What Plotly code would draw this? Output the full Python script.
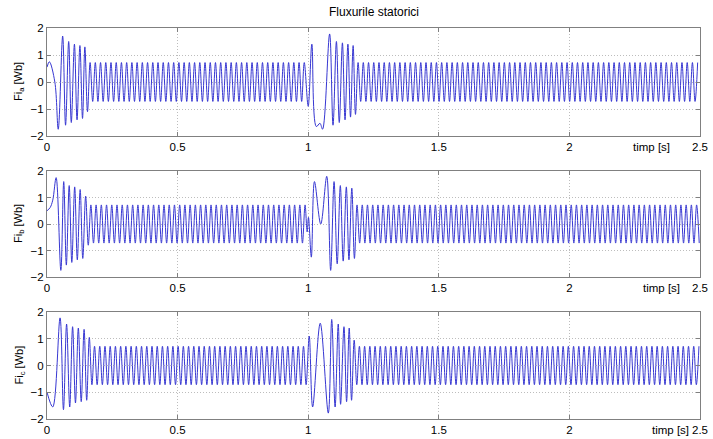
import plotly.graph_objects as go
from plotly.subplots import make_subplots

W, H = 713, 439

# ---- data ----
HALF_PERIOD = 0.01      # 50 Hz supply
STEADY_AMP = 0.72       # steady-state flux amplitude [Wb]

# phase a : start-up transient (time [s], flux [Wb]) at the extrema
a_start_t = [0.000, 0.009, 0.030, 0.043, 0.060, 0.071, 0.083, 0.093, 0.105, 0.115, 0.126, 0.136, 0.145, 0.155]
a_start_v = [0.55, 0.75, 0.00, -1.75, 1.70, -1.60, 1.50, -1.50, 1.40, -1.40, 1.35, -1.35, 1.30, -1.10]
a_fault_t = [1.000, 1.014, 1.031, 1.045, 1.055, 1.082, 1.095, 1.108, 1.119, 1.131, 1.141, 1.152, 1.162, 1.172, 1.181]
a_fault_v = [-0.90, 1.40, -1.65, -1.53, -1.75, 1.78, -1.60, 1.50, -1.50, 1.45, -1.40, 1.40, -1.30, 1.35, -1.20]

# phase b
b_start_t = [0.000, 0.012, 0.022, 0.035, 0.053, 0.064, 0.074, 0.085, 0.095, 0.106, 0.116, 0.127, 0.137, 0.148, 0.158]
b_start_v = [0.50, 0.62, 0.90, 1.75, -1.75, 1.60, -1.55, 1.45, -1.45, 1.40, -1.35, 1.30, -1.30, 1.05, -0.80]
b_fault_t = [0.996, 1.001, 1.012, 1.024, 1.048, 1.071, 1.086, 1.099, 1.111, 1.123, 1.134, 1.146, 1.156, 1.167, 1.177]
b_fault_v = [-0.30, 0.25, -1.25, 1.60, 0.00, 1.80, -1.75, 1.60, -1.50, 1.45, -1.40, 1.40, -1.35, 1.35, -1.30]

# phase c
c_start_t = [0.000, 0.022, 0.050, 0.063, 0.075, 0.087, 0.098, 0.109, 0.120, 0.131, 0.142, 0.152, 0.162]
c_start_v = [-1.00, -1.55, 1.78, -1.65, 1.55, -1.55, 1.45, -1.40, 1.40, -1.35, 1.35, -1.30, 1.05]
c_fault_t = [1.004, 1.017, 1.046, 1.077, 1.090, 1.103, 1.115, 1.124, 1.137, 1.147, 1.157, 1.166, 1.176]
c_fault_v = [1.10, -1.55, 1.58, -1.78, 1.72, -1.55, 1.55, -1.45, 1.45, -1.35, 1.40, -1.30, 0.95]

# steady segments: (start time, end time, sign of first extremum)
a_steady = [(0.165, 0.990, 1), (1.191, 2.500, 1)]
b_steady = [(0.168, 0.990, 1), (1.187, 2.500, 1)]
c_steady = [(0.172, 0.995, -1), (1.186, 2.500, -1)]

x_tick_vals = [0, 0.5, 1, 1.5, 2, 2.5]
x_tick_text = ["0", "0.5", "1", "1.5", "2", "2.5"]
y_tick_vals = [-2, -1, 0, 1, 2]
y_titles = ["Fi<sub>a</sub> [Wb]", "Fi<sub>b</sub> [Wb]", "Fi<sub>c</sub> [Wb]"]
title_text = "Fluxurile statorici"
x_label = "timp [s]"


def steady(t0, t1, sign):
    ts, vs = [], []
    k = 0
    while t0 + k * HALF_PERIOD <= t1 + 1e-9:
        ts.append(round(t0 + k * HALF_PERIOD, 4))
        vs.append(sign * STEADY_AMP * (1 if k % 2 == 0 else -1))
        k += 1
    return ts, vs


def build(st_t, st_v, ft_t, ft_v, segs):
    s1 = steady(*segs[0])
    s2 = steady(*segs[1])
    t = st_t + s1[0] + ft_t + s2[0]
    v = st_v + s1[1] + ft_v + s2[1]
    return t, v


phases = [
    build(a_start_t, a_start_v, a_fault_t, a_fault_v, a_steady),
    build(b_start_t, b_start_v, b_fault_t, b_fault_v, b_steady),
    build(c_start_t, c_start_v, c_fault_t, c_fault_v, c_steady),
]

fig = make_subplots(rows=3, cols=1)

LINE_COLOR = "rgb(55,55,210)"
for i, (t, v) in enumerate(phases):
    fig.add_trace(go.Scatter(x=t, y=v, mode="lines",
                             line=dict(color=LINE_COLOR, width=1, shape="spline", smoothing=1.0),
                             showlegend=False, hoverinfo="skip"), row=i + 1, col=1)

# pixel layout of the three axes boxes (top, bottom)
boxes = [(28, 136), (171, 277), (312, 419)]
x_left, x_right = 47, 700
FONT = "Liberation Sans, Arial, sans-serif"
AX_COL = "#808080"
GRID_COL = "#bdbdbd"

for i, (top, bot) in enumerate(boxes):
    xa = "xaxis" if i == 0 else f"xaxis{i+1}"
    ya = "yaxis" if i == 0 else f"yaxis{i+1}"
    fig.layout[xa].update(
        domain=[x_left / W, x_right / W], range=[0, 2.5], automargin=False,
        tickvals=x_tick_vals, ticktext=x_tick_text,
        ticks="inside", ticklen=4, tickcolor=AX_COL, tickwidth=1,
        showline=True, linecolor=AX_COL, linewidth=1, mirror="ticks",
        showgrid=True, gridcolor=GRID_COL, griddash="1px,2px", gridwidth=1,
        zeroline=False, tickfont=dict(family=FONT, size=11.5, color="#000"),
        fixedrange=True,
    )
    fig.layout[ya].update(
        domain=[1 - bot / H, 1 - top / H], range=[-2, 2], automargin=False,
        tickvals=y_tick_vals,
        ticks="inside", ticklen=4, tickcolor=AX_COL, tickwidth=1,
        showline=True, linecolor=AX_COL, linewidth=1, mirror="ticks",
        showgrid=True, gridcolor=GRID_COL, griddash="1px,2px", gridwidth=1,
        zeroline=False, tickfont=dict(family=FONT, size=11.5, color="#000"),
        fixedrange=True,
    )

annotations = []
# y-axis titles
for i, (top, bot) in enumerate(boxes):
    annotations.append(dict(
        text=y_titles[i], textangle=-90, xref="paper", yref="paper",
        x=19 / W, y=1 - (top + bot) / 2 / H, xanchor="center", yanchor="middle",
        showarrow=False, font=dict(family=FONT, size=11, color="#000")))
# "timp [s]" labels near the last tick
timp_x = [651, 661, 670]
for i, (top, bot) in enumerate(boxes):
    annotations.append(dict(
        text=x_label, xref="paper", yref="paper",
        x=timp_x[i] / W, y=1 - (bot + 11) / H, xanchor="center", yanchor="middle",
        showarrow=False, font=dict(family=FONT, size=11.5, color="#000")))
# title
annotations.append(dict(
    text=title_text, xref="paper", yref="paper",
    x=(x_left + x_right) / 2 / W, y=1 - 12 / H, xanchor="center", yanchor="middle",
    showarrow=False, font=dict(family=FONT, size=12, color="#000")))

fig.update_layout(
    width=W, height=H, margin=dict(l=0, r=0, t=0, b=0),
    paper_bgcolor="white", plot_bgcolor="white",
    annotations=annotations, showlegend=False,
)

fig.write_html("out.html", config={"displayModeBar": False, "staticPlot": True},
               post_script="document.body.style.margin='0';document.body.style.overflow='hidden';")
